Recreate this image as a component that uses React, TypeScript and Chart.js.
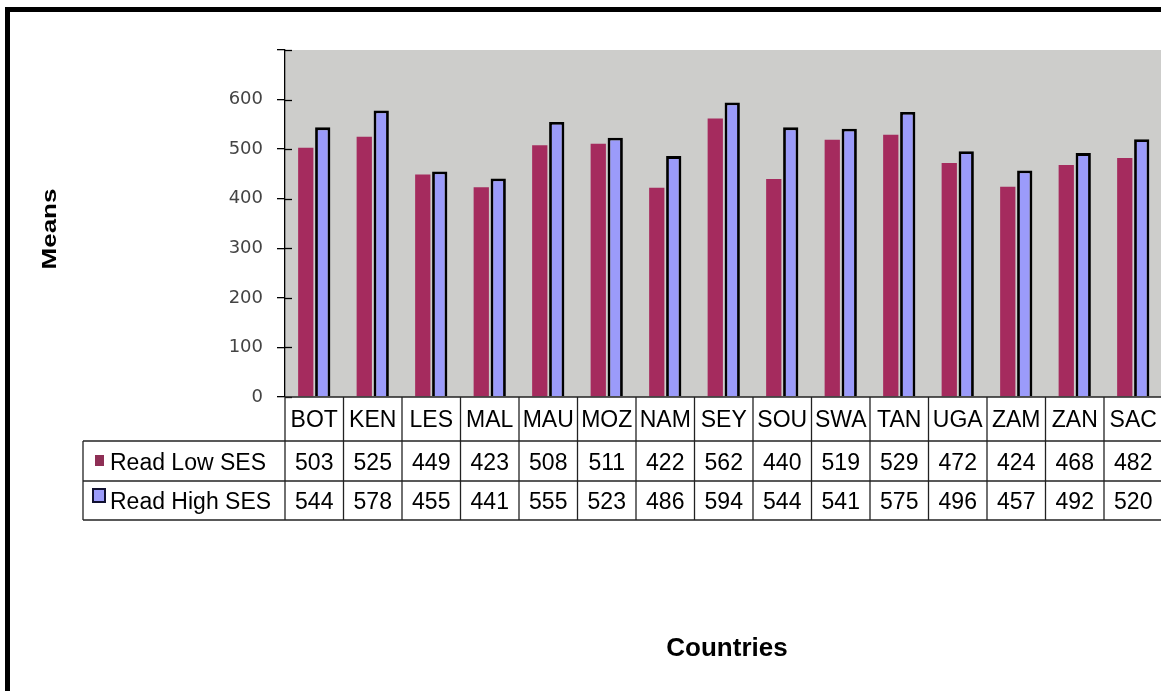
import React, { useEffect, useRef } from 'react';
import { Chart, registerables } from 'chart.js';

Chart.register(...registerables);

// Reading means by socio-economic status, per country
const countries = ['BOT', 'KEN', 'LES', 'MAL', 'MAU', 'MOZ', 'NAM', 'SEY', 'SOU', 'SWA', 'TAN', 'UGA', 'ZAM', 'ZAN', 'SAC'];
const readLowSES = [503, 525, 449, 423, 508, 511, 422, 562, 440, 519, 529, 472, 424, 468, 482];
const readHighSES = [544, 578, 455, 441, 555, 523, 486, 594, 544, 541, 575, 496, 457, 492, 520];
const seriesNames = ['Read Low SES', 'Read High SES'];
const yMax = 700;
const yStep = 100;

const lowColor = '#A52B5E';
const highColor = '#9B9BFA';
const plotBg = '#CDCDCB';

const CANVAS_W = 1170;
const CANVAS_H = 691;
const TABLE_FONT = '23px "Liberation Sans", Arial, sans-serif';

const decorPlugin = {
  id: 'decor',
  beforeDraw(chart: any) {
    const { ctx, chartArea } = chart;
    ctx.save();
    ctx.fillStyle = '#ffffff';
    ctx.fillRect(0, 0, chart.width, chart.height);
    ctx.fillStyle = plotBg;
    ctx.fillRect(chartArea.left, chartArea.top, chartArea.right - chartArea.left, chartArea.bottom - chartArea.top);
    ctx.restore();
  },
  afterDraw(chart: any) {
    const { ctx, chartArea } = chart;
    const yScale = chart.scales.y;
    const xScale = chart.scales.x;
    const left = chartArea.left;
    const right = chartArea.right;
    const bottom = chartArea.bottom;
    const colW = (right - left) / countries.length;
    ctx.save();

    // inner half of the crossing tick marks
    ctx.strokeStyle = '#000';
    ctx.lineWidth = 1.3;
    yScale.ticks.forEach((t: any) => {
      const y = Math.round(yScale.getPixelForValue(t.value)) + 0.5;
      ctx.beginPath();
      ctx.moveTo(left, y);
      ctx.lineTo(left + 7, y);
      ctx.stroke();
    });

    // data table under the plot
    const headerBottom = bottom + 44;
    const row1Bottom = headerBottom + 40;
    const row2Bottom = row1Bottom + 39;
    const legendLeft = 83;
    ctx.strokeStyle = '#222';
    ctx.lineWidth = 1.3;
    const hline = (y: number, x0: number) => {
      ctx.beginPath();
      ctx.moveTo(x0, y);
      ctx.lineTo(chart.width, y);
      ctx.stroke();
    };
    hline(bottom, left);
    hline(headerBottom, legendLeft);
    hline(row1Bottom, legendLeft);
    hline(row2Bottom, legendLeft);
    ctx.beginPath();
    ctx.moveTo(legendLeft, headerBottom);
    ctx.lineTo(legendLeft, row2Bottom);
    ctx.stroke();
    for (let k = 0; k <= countries.length; k++) {
      const x = left + k * colW;
      ctx.beginPath();
      ctx.moveTo(x, bottom);
      ctx.lineTo(x, row2Bottom);
      ctx.stroke();
    }

    ctx.fillStyle = '#000';
    ctx.font = TABLE_FONT;
    ctx.textAlign = 'center';
    ctx.textBaseline = 'alphabetic';
    countries.forEach((c, i) => {
      const x = xScale.getPixelForValue(i);
      ctx.fillText(c, x, headerBottom - 14);
      ctx.fillText(String(readLowSES[i]), x, row1Bottom - 11);
      ctx.fillText(String(readHighSES[i]), x, row2Bottom - 11);
    });

    // legend keys and series names
    ctx.fillStyle = '#8E2F55';
    ctx.fillRect(95, headerBottom + 14, 9, 11);
    ctx.fillStyle = highColor;
    ctx.fillRect(93, row1Bottom + 8, 12, 13);
    ctx.strokeStyle = '#101030';
    ctx.lineWidth = 2;
    ctx.strokeRect(93, row1Bottom + 8, 12, 13);
    ctx.fillStyle = '#000';
    ctx.textAlign = 'left';
    ctx.fillText(seriesNames[0], 110, row1Bottom - 11);
    ctx.fillText(seriesNames[1], 110, row2Bottom - 11);

    // axis titles
    ctx.font = 'bold 26px "Liberation Sans", Arial, sans-serif';
    ctx.textAlign = 'center';
    ctx.fillText('Countries', 727, 656);
    ctx.save();
    ctx.translate(50, 229);
    ctx.rotate(-Math.PI / 2);
    ctx.scale(1, 0.78);
    ctx.textBaseline = 'middle';
    ctx.fillText('Means', 0, 0);
    ctx.restore();

    // outer frame
    ctx.fillStyle = '#000';
    ctx.fillRect(5, 7, chart.width - 5, 5);
    ctx.fillRect(5, 7, 5, chart.height - 7);
    ctx.restore();
  },
};

export default function App() {
  const canvasRef = useRef<HTMLCanvasElement | null>(null);

  useEffect(() => {
    if (!canvasRef.current) return;
    const chart = new Chart(canvasRef.current, {
      type: 'bar',
      data: {
        labels: countries,
        datasets: [
          {
            label: seriesNames[0],
            data: readLowSES,
            backgroundColor: lowColor,
            borderWidth: 0,
          },
          {
            label: seriesNames[1],
            data: readHighSES,
            backgroundColor: highColor,
            borderColor: '#000',
            borderWidth: 2.8,
          },
        ],
      },
      options: {
        responsive: false,
        animation: false,
        devicePixelRatio: 1,
        layout: { padding: { left: 0, top: 50, right: CANVAS_W - 1162.5, bottom: CANVAS_H - 397 } },
        datasets: { bar: { categoryPercentage: 0.58, barPercentage: 0.9 } },
        plugins: { legend: { display: false }, tooltip: { enabled: false } },
        scales: {
          x: { display: false },
          y: {
            min: 0,
            max: yMax,
            afterFit: (scale: any) => {
              scale.width = 285;
            },
            ticks: {
              stepSize: yStep,
              padding: 14,
              color: '#444',
              font: { family: '"DejaVu Sans", Verdana, sans-serif', size: 18 },
              callback: (v: any) => (Number(v) === yMax ? '' : String(v)),
            },
            grid: { drawOnChartArea: false, drawTicks: true, tickLength: 8, color: '#000', lineWidth: 1.3 },
            border: { display: true, color: '#000', width: 1.3 },
          },
        },
      },
      plugins: [decorPlugin],
    });
    return () => chart.destroy();
  }, []);

  return (
    <div style={{ position: 'fixed', left: 0, top: 0, width: 1161, height: 691, overflow: 'hidden', background: '#fff' }}>
      <canvas ref={canvasRef} width={CANVAS_W} height={CANVAS_H} style={{ width: CANVAS_W, height: CANVAS_H, display: 'block' }} />
    </div>
  );
}
